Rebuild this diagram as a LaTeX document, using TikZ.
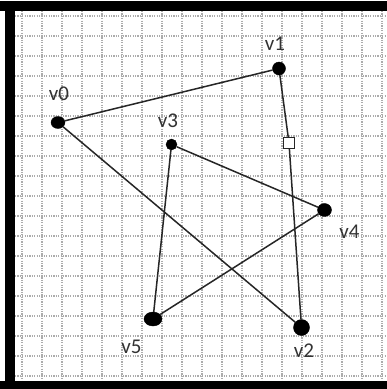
\documentclass[tikz,border=0pt]{standalone}
\usepackage{fontspec}
\setmainfont{Carlito}
\usetikzlibrary{shapes.geometric}
\begin{document}
\begin{tikzpicture}[x=1pt,y=-1pt,
  gridline/.style={gray!65,line width=1.5pt,dash pattern=on 1.2pt off 1.2pt},
  vtx/.style={ellipse,fill=black,draw=black,inner sep=0pt},
  edge/.style={black!85,line width=1.5pt},
  lbl/.style={anchor=base,text=black!80,font=\fontsize{21}{21}\selectfont,inner sep=0pt}]
\useasboundingbox (0,0) rectangle (387,389);
\fill[white] (0,0) rectangle (387,389);
% grid
\foreach \i in {0,...,18} {
  \draw[gridline] (22+20*\i,11) -- (22+20*\i,381);
  \draw[gridline] (15,16+20*\i) -- (387,16+20*\i);
}
% frame
\fill[black] (0,1) rectangle (387,11);
\fill[black] (5,1) rectangle (15,389);
\fill[black] (0,381) rectangle (387,389);
% vertices
\node[vtx,minimum width=14pt,minimum height=12pt] (v0) at (58,122.5) {};
\node[vtx,minimum width=13pt,minimum height=13pt] (v1) at (279,68.5) {};
\node[vtx,minimum width=16pt,minimum height=16pt] (v2) at (301.5,327.5) {};
\node[vtx,minimum width=11pt,minimum height=11pt] (v3) at (171.5,144.5) {};
\node[vtx,minimum width=14pt,minimum height=13pt] (v4) at (324.5,210) {};
\node[vtx,minimum width=18pt,minimum height=14pt] (v5) at (153,319) {};
\coordinate (sqc) at (289,143);
% edges
\draw[edge] (v0) -- (v1);
\draw[edge] (v1) -- (sqc) -- (v2);
\draw[edge] (v0) -- (v2);
\draw[edge] (v3) -- (v4);
\draw[edge] (v3) -- (v5);
\draw[edge] (v5) -- (v4);
\node[draw=black!85,fill=white,line width=1.4pt,minimum size=11pt,inner sep=0pt] (sq) at (sqc) {};
% labels
\node[lbl] (l0) at (59,100) {v0};
\node[lbl] (l1) at (275,50.5) {v1};
\node[lbl] (l2) at (304,357) {v2};
\node[lbl] (l3) at (168,127) {v3};
\node[lbl] (l4) at (349.5,238) {v4};
\node[lbl] (l5) at (131.5,353) {v5};
\end{tikzpicture}
\end{document}
